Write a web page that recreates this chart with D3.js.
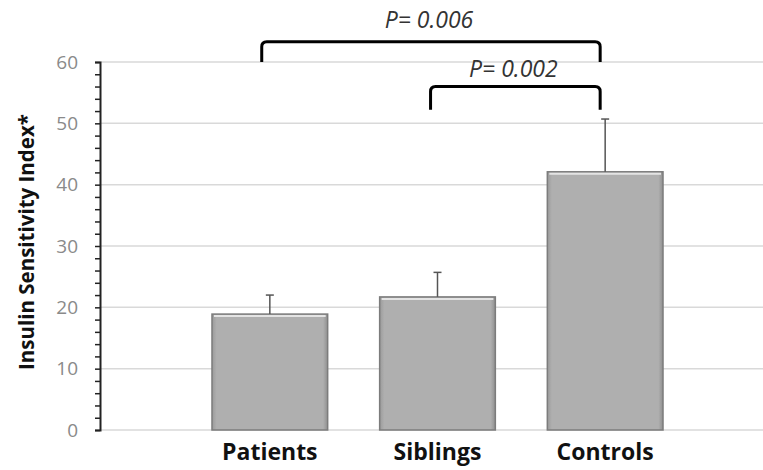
<!DOCTYPE html>
<html><head><meta charset="utf-8">
<script src="https://cdn.jsdelivr.net/npm/d3@7"></script>
<style>body{margin:0;background:#fff;}svg{display:block;font-family:"Open Sans",Calibri,sans-serif;}</style>
</head><body>
<svg id="c" width="763" height="470"></svg>
<script>
const categories = ["Patients", "Siblings", "Controls"];
const means = [18.9, 21.7, 42.1];
const errors = [3.1, 4.0, 8.6];
const yTicks = [0, 10, 20, 30, 40, 50, 60];
const yLabel = "Insulin Sensitivity Index*";
const comparisons = [
  {from: "Patients", to: "Controls", level: 63.3, foot: 60, labelLevel: 65.6, label: "P= 0.006"},
  {from: "Siblings", to: "Controls", level: 56.0, foot: 52.2, labelLevel: 57.6, label: "P= 0.002"}
];

const svg = d3.select("#c");
const y = d3.scaleLinear().domain([0, 60]).range([430, 62]);
const x = d3.scaleBand().domain(categories).range([186, 689]).paddingInner(0.31).paddingOuter(0.155);

// gridlines
svg.append("g").selectAll("line").data(yTicks).join("line")
  .attr("x1", 100).attr("x2", 763)
  .attr("y1", d => y(d)).attr("y2", d => y(d))
  .attr("stroke", "#d9d9d9").attr("stroke-width", 1.5);

// y axis
const yAxis = d3.axisLeft(y).tickValues(d3.range(0, 61, 2)).tickSize(5).tickFormat(d => yTicks.includes(d) ? d : "");
const ga = svg.append("g").attr("transform", "translate(100,0)").call(yAxis);
ga.select(".domain").attr("stroke", "#222").attr("stroke-width", 2);
ga.selectAll(".tick line").attr("stroke", "#222").attr("stroke-width", 1.5);
ga.selectAll(".tick text").attr("fill", "#8a8a8a").attr("font-size", 19).attr("x", -22)
  .attr("font-family", "'Open Sans',sans-serif");

// bars
const defs = svg.append("defs");
const grad = defs.append("linearGradient").attr("id", "bg").attr("x1", 0).attr("x2", 1).attr("y1", 0).attr("y2", 0);
grad.append("stop").attr("offset", 0).attr("stop-color", "#9a9a9a");
grad.append("stop").attr("offset", 0.04).attr("stop-color", "#afafaf");
grad.append("stop").attr("offset", 0.96).attr("stop-color", "#afafaf");
grad.append("stop").attr("offset", 1).attr("stop-color", "#8f8f8f");

const bars = svg.append("g").selectAll("g").data(categories).join("g");
bars.append("rect")
  .attr("x", d => x(d)).attr("width", x.bandwidth())
  .attr("y", (d, i) => y(means[i])).attr("height", (d, i) => y(0) - y(means[i]))
  .attr("fill", "url(#bg)").attr("stroke", "#7c7c7c").attr("stroke-width", 1.5);
bars.append("line")
  .attr("x1", d => x(d) + 2).attr("x2", d => x(d) + x.bandwidth() - 2)
  .attr("y1", (d, i) => y(means[i]) + 2).attr("y2", (d, i) => y(means[i]) + 2)
  .attr("stroke", "#e4e4e4").attr("stroke-width", 2);

// error bars
const eb = svg.append("g").attr("stroke", "#555").attr("stroke-width", 1.5);
eb.selectAll("line.v").data(categories).join("line").attr("class", "v")
  .attr("x1", d => x(d) + x.bandwidth() / 2).attr("x2", d => x(d) + x.bandwidth() / 2)
  .attr("y1", (d, i) => y(means[i])).attr("y2", (d, i) => y(means[i] + errors[i]));
eb.selectAll("line.c").data(categories).join("line").attr("class", "c")
  .attr("x1", d => x(d) + x.bandwidth() / 2 - 4).attr("x2", d => x(d) + x.bandwidth() / 2 + 4)
  .attr("y1", (d, i) => y(means[i] + errors[i])).attr("y2", (d, i) => y(means[i] + errors[i]));

// x labels
svg.append("g").selectAll("text").data(categories).join("text")
  .attr("x", d => x(d) + x.bandwidth() / 2).attr("y", 460)
  .attr("text-anchor", "middle").attr("font-weight", "bold").attr("font-size", 23)
  .attr("fill", "#111").text(d => d);

// y label
svg.append("text").attr("transform", "translate(34,242) rotate(-90)")
  .attr("text-anchor", "middle").attr("font-weight", "bold").attr("font-size", 20.5)
  .attr("fill", "#111").text(yLabel);

// comparison brackets
const cx = d => x(d) + x.bandwidth() / 2;
const bg = svg.append("g");
comparisons.forEach(c => {
  const x1 = c.from === "Patients" ? x(c.from) + x.bandwidth() * 0.43 : x(c.from) + x.bandwidth() * 0.44;
  const x2 = cx(c.to) - 5;
  const yl = y(c.level), yf = y(c.foot), r = 5;
  bg.append("path")
    .attr("d", `M${x1},${yf} L${x1},${yl + r} Q${x1},${yl} ${x1 + r},${yl} L${x2 - r},${yl} Q${x2},${yl} ${x2},${yl + r} L${x2},${yf}`)
    .attr("fill", "none").attr("stroke", "#000").attr("stroke-width", 3);
  bg.append("text").attr("x", (x1 + x2) / 2 - 2).attr("y", y(c.labelLevel))
    .attr("text-anchor", "middle").attr("font-style", "italic").attr("font-size", 23)
    .attr("fill", "#333").text(c.label);
});
</script>
</body></html>
